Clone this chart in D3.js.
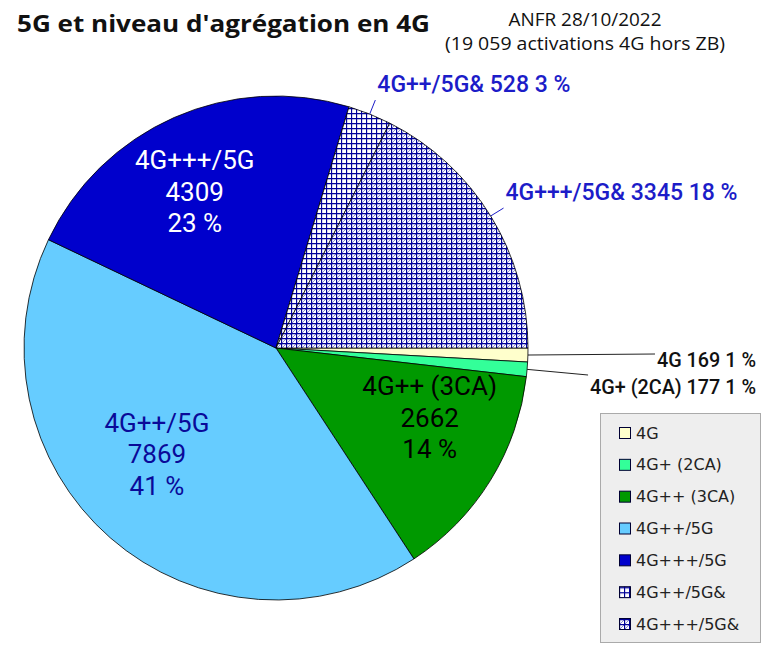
<!DOCTYPE html>
<html>
<head>
<meta charset="utf-8">
<script src="https://cdn.jsdelivr.net/npm/d3@7"></script>
<style>
  body { margin: 0; background: #fff; }
  svg { display: block; }
</style>
</head>
<body>
<div id="chart"></div>
<script>
// données ANFR 28/10/2022
const categories = ["4G", "4G+ (2CA)", "4G++ (3CA)", "4G++/5G", "4G+++/5G", "4G++/5G&", "4G+++/5G&"];
const activations = [169, 177, 2662, 7869, 4309, 528, 3345];
const titleText = "5G et niveau d'agrégation en 4G";
const subtitleLines = ["ANFR 28/10/2022", "(19 059 activations 4G hors ZB)"];

const width = 769, height = 650;
const cx = 276, cy = 348, radius = 252;

const fills = ["#ffffcc", "#33ff99", "#009900", "#66ccff", "#0000cc", "url(#grid)", "url(#gridDiag)"];
const insideColors = { "4G++ (3CA)": "#000000", "4G++/5G": "#0a0a99", "4G+++/5G": "#ffffff" };
const insideShift = { "4G++ (3CA)": [10, -18], "4G++/5G": [-8, -20], "4G+++/5G": [-13, -1] };

const svg = d3.select("#chart").append("svg")
  .attr("width", width)
  .attr("height", height);

// motifs (hachures)
const defs = svg.append("defs");
const grid = defs.append("pattern")
  .attr("id", "grid").attr("patternUnits", "userSpaceOnUse")
  .attr("width", 5).attr("height", 5);
grid.append("rect").attr("width", 5).attr("height", 5).attr("fill", "#fff");
grid.append("path").attr("d", "M0,0.5H5M0.5,0V5")
  .attr("stroke", "#000099").attr("stroke-width", 1.3);

const gridDiag = defs.append("pattern")
  .attr("id", "gridDiag").attr("patternUnits", "userSpaceOnUse")
  .attr("width", 5).attr("height", 5);
gridDiag.append("rect").attr("width", 5).attr("height", 5).attr("fill", "#fff");
gridDiag.append("path").attr("d", "M1,5L5,1")
  .attr("stroke", "#8a8ad8").attr("stroke-width", 1);
gridDiag.append("path").attr("d", "M0,0.5H5M0.5,0V5")
  .attr("stroke", "#000099").attr("stroke-width", 1.3);

// titres
svg.append("text")
  .attr("x", 17).attr("y", 32)
  .attr("font-family", "Open Sans").attr("font-weight", "bold")
  .attr("font-size", 24)
  .attr("textLength", 413).attr("lengthAdjust", "spacingAndGlyphs")
  .attr("fill", "#111")
  .text(titleText);

svg.selectAll(".subtitle")
  .data(subtitleLines)
  .join("text")
    .attr("class", "subtitle")
    .attr("x", 585)
    .attr("y", (d, i) => 26 + i * 24)
    .attr("text-anchor", "middle")
    .attr("font-family", "Open Sans")
    .attr("font-size", 18)
    .attr("textLength", (d, i) => i === 0 ? 153 : 280)
    .attr("lengthAdjust", "spacingAndGlyphs")
    .attr("fill", "#111")
    .text(d => d);

// camembert
const total = d3.sum(activations);
const pieData = categories.map((c, i) => ({ name: c, value: activations[i], fill: fills[i] }));

const pie = d3.pie()
  .value(d => d.value)
  .sort(null)
  .startAngle(Math.PI / 2)
  .endAngle(Math.PI / 2 + 2 * Math.PI);

const arcs = pie(pieData);
const arc = d3.arc().innerRadius(0).outerRadius(radius);

const g = svg.append("g").attr("transform", `translate(${cx},${cy})`);

g.selectAll("path.slice")
  .data(arcs)
  .join("path")
    .attr("class", "slice")
    .attr("d", arc)
    .attr("fill", d => d.data.fill)
    .attr("stroke", "#000")
    .attr("stroke-width", 0.8);

const pct = v => Math.round(v / total * 100) + " %";

// étiquettes intérieures
const labelArc = d3.arc().innerRadius(radius * 0.67).outerRadius(radius * 0.67);
arcs.filter(d => insideColors[d.data.name]).forEach(d => {
  const [x, y] = labelArc.centroid(d);
  const [dx, dy] = insideShift[d.data.name];
  const t = g.append("text")
    .attr("text-anchor", "middle")
    .attr("font-family", "Roboto")
    .attr("font-size", 26)
    .attr("fill", insideColors[d.data.name]);
  [d.data.name, d.data.value, pct(d.data.value)].forEach((line, k) => {
    t.append("tspan")
      .attr("x", x + dx)
      .attr("y", y + dy + (k - 1) * 31.5 + 8)
      .text(line);
  });
});

// étiquettes extérieures avec lignes de rappel
const pointAt = (a, r) => [Math.sin(a) * r, -Math.cos(a) * r];
const mid = d => (d.startAngle + d.endAngle) / 2;

arcs.filter(d => d.data.name.endsWith("&")).forEach(d => {
  const p0 = pointAt(mid(d), radius);
  const p1 = pointAt(mid(d), radius * 1.06);
  g.append("line")
    .attr("x1", p0[0]).attr("y1", p0[1])
    .attr("x2", p1[0]).attr("y2", p1[1])
    .attr("stroke", "#1c1cc8").attr("stroke-width", 1);
  g.append("text")
    .attr("x", p1[0] + 2).attr("y", p1[1] - 8)
    .attr("font-family", "Roboto").attr("font-weight", 500)
    .attr("font-size", 23)
    .attr("fill", "#1c1cc8")
    .text(`${d.data.name} ${d.data.value} ${pct(d.data.value)}`);
});

const smallBaselines = { "4G": 367, "4G+ (2CA)": 394 };
const smallLeadDrop = { "4G": 13, "4G+ (2CA)": 19 };
arcs.filter(d => smallBaselines[d.data.name]).forEach(d => {
  const t = svg.append("text")
    .attr("x", 756).attr("y", smallBaselines[d.data.name])
    .attr("text-anchor", "end")
    .attr("font-family", "Roboto").attr("font-weight", 500)
    .attr("font-size", 19.8)
    .attr("fill", "#111")
    .text(`${d.data.name} ${d.data.value} ${pct(d.data.value)}`);
  const w = t.node().getComputedTextLength();
  const p0 = pointAt(mid(d), radius);
  svg.insert("line", "text")
    .attr("x1", cx + p0[0]).attr("y1", cy + p0[1])
    .attr("x2", 756 - w - 2).attr("y2", smallBaselines[d.data.name] - smallLeadDrop[d.data.name])
    .attr("stroke", "#222").attr("stroke-width", 1);
});

// légende
const legend = svg.append("g");
legend.append("rect")
  .attr("x", 600.5).attr("y", 413.5)
  .attr("width", 160).attr("height", 229)
  .attr("fill", "#eeeeee")
  .attr("stroke", "#aaaaaa");

const ly = d3.scalePoint().domain(categories).range([433, 624]);

const items = legend.selectAll(".item")
  .data(pieData)
  .join("g")
    .attr("class", "item")
    .attr("transform", d => `translate(619,${ly(d.name)})`);

items.append("rect")
  .attr("x", 0.5).attr("y", -5.5)
  .attr("width", 11).attr("height", 11)
  .attr("fill", d => d.fill)
  .attr("stroke", "#000033").attr("stroke-width", 1);

items.append("text")
  .attr("x", 17).attr("y", 0)
  .attr("dy", "0.35em")
  .attr("font-family", "DejaVu Sans")
  .attr("font-size", 16)
  .attr("fill", "#222")
  .text(d => d.name);
</script>
</body>
</html>
